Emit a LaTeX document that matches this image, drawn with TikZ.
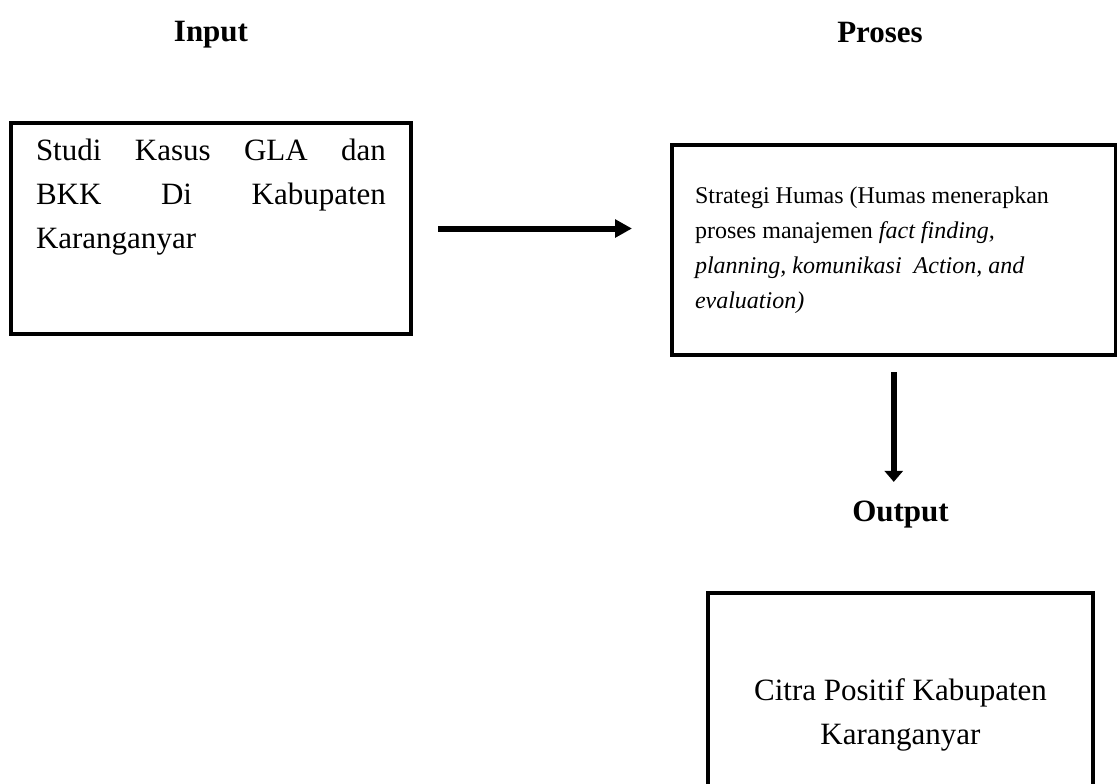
\documentclass[tikz,border=0pt]{standalone}
\usepackage{fontspec}
\setmainfont{Liberation Serif}
\usepackage{tikz}
\usetikzlibrary{arrows.meta,positioning,calc}

\begin{document}
\begin{tikzpicture}[
    x=0.4pt, y=-0.4pt,
    box/.style={rectangle, draw, line width=1.5pt, inner ysep=0pt, outer sep=0pt, font=\fontsize{12.4}{17.6}\selectfont},
    head/.style={inner sep=0pt, font=\fontsize{12.4}{15}\selectfont\bfseries},
    bigarrow/.style={-{Triangle[length=6.8pt, width=7pt]}, line width=2.4pt}
]
    \useasboundingbox (0,0) rectangle (1118,783);

    % Input
    \node[box, anchor=north west, inner xsep=10pt, text height=14.8pt, text depth=69.6pt] (input) at (11,123)
        {\parbox[t]{140pt}{Studi Kasus GLA dan\linebreak BKK Di Kabupaten\linebreak Karanganyar}};

    % Proses
    \node[box, anchor=north west, inner xsep=9.2pt, text height=23.2pt, text depth=60.8pt] (proses) at (672,145)
        {\parbox[t]{159pt}{\fontsize{9.6}{14}\selectfont\raggedright Strategi Humas (Humas menerapkan\\ proses manajemen \textit{fact finding,}\\ \textit{planning, komunikasi\ \ Action, and}\\ \textit{evaluation)}}};

    % Output
    \node[box, anchor=north, inner xsep=0pt, text height=42.8pt, text depth=53.2pt] (result) at (900.5,593)
        {\parbox[t]{154pt}{\centering Citra Positif Kabupaten\\ Karanganyar}};

    % Labels
    \node[head, above=29.7pt of input] (inputhead) {Input};
    \node[head, anchor=base] (proseshead) at (880,42) {Proses};
    \node[head, above=25.6pt of result] (outhead) {Output};

    % Edges
    \draw[bigarrow, shorten <=10.8pt, shorten >=16pt] (input.east) -- (input.east -| proses.west);
    \draw[bigarrow, -{Triangle[length=4.4pt, width=7.2pt]}, shorten <=6.8pt, shorten >=7.6pt] (proses.south) -- (proses.south |- outhead.north);
\end{tikzpicture}
\end{document}
